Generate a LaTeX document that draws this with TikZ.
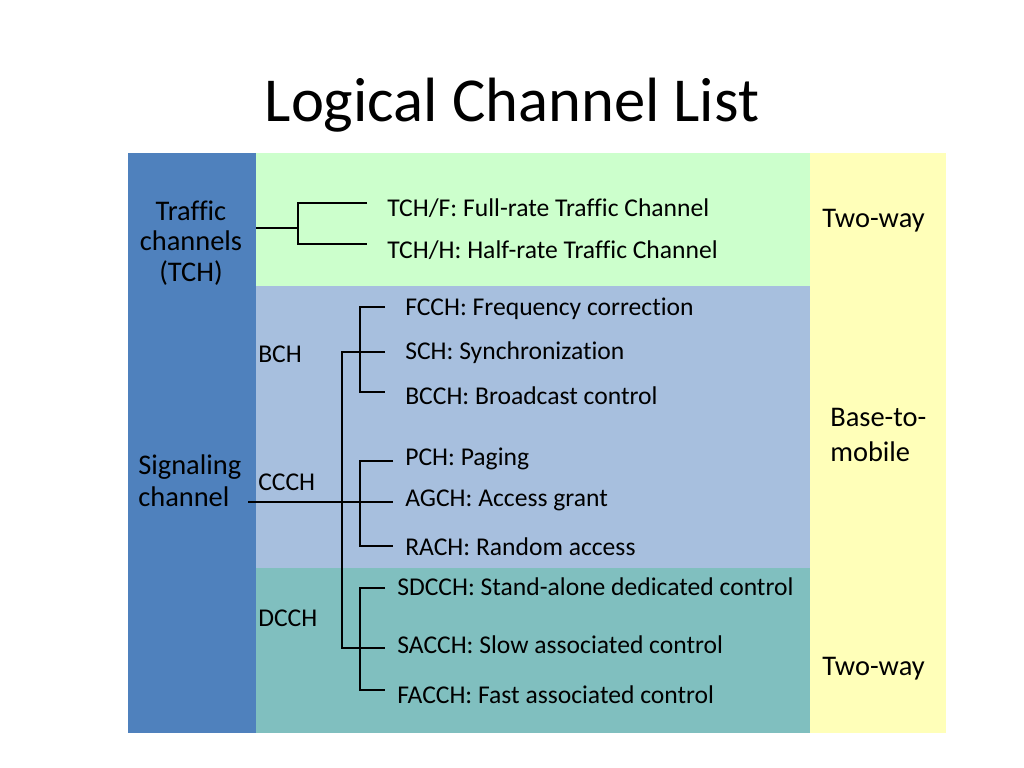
\documentclass[tikz,border=0pt]{standalone}
\usepackage{fontspec}
\setmainfont{Carlito}[Ligatures={NoCommon},RawFeature={-liga;-clig;-dlig}]
\definecolor{colblue}{HTML}{4F81BD}
\definecolor{bandgreen}{HTML}{CCFFCC}
\definecolor{bandblue}{HTML}{A7BFDE}
\definecolor{bandteal}{HTML}{80BFBF}
\definecolor{colyellow}{HTML}{FFFFB9}
\begin{document}
\begin{tikzpicture}[x=0.703125pt,y=-0.703125pt,
  lbl/.style={anchor=base west,inner sep=0pt,font=\fontsize{18}{21.6}\selectfont},
  side/.style={inner sep=0pt,font=\fontsize{20}{21.1}\selectfont},
  wire/.style={line width=1.4pt,line join=miter}]
\useasboundingbox (0,0) rectangle (1024,768);
\fill[white] (0,0) rectangle (1024,768);
% title
\node[anchor=base,inner sep=0pt,font=\fontsize{44}{50}\selectfont] (title) at (512,122) {Logical Channel List};
% bands
\fill[colblue] (128,153) rectangle (256,733);
\fill[bandgreen] (256,153) rectangle (810,286);
\fill[bandblue] (256,286) rectangle (810,568);
\fill[bandteal] (256,568) rectangle (810,733);
\fill[colyellow] (810,153) rectangle (946,733);
% left labels
\node[side,align=center,anchor=base] (traffic) at (191,281) {Traffic\\channels\\(TCH)};
\node[side,align=left,anchor=base west,font=\fontsize{20}{22.5}\selectfont] (signaling) at (138,506) {Signaling\\channel};
% group labels
\node[lbl] (bch) at (258,362) {BCH};
\node[lbl] (ccch) at (258,490) {CCCH};
\node[lbl] (dcch) at (258,626) {DCCH};
% channel labels
\node[lbl] (tchf) at (387,217) {TCH/F: Full-rate Traffic Channel};
\node[lbl] (tchh) at (387,259) {TCH/H: Half-rate Traffic Channel};
\node[lbl] (fcch) at (405,316) {FCCH: Frequency correction};
\node[lbl] (sch) at (405,359) {SCH: Synchronization};
\node[lbl] (bcch) at (405,404) {BCCH: Broadcast control};
\node[lbl] (pch) at (405,465) {PCH: Paging};
\node[lbl] (agch) at (405,506) {AGCH: Access grant};
\node[lbl] (rach) at (405,555) {RACH: Random access};
\node[lbl] (sdcch) at (397,595) {SDCCH: Stand-alone dedicated control};
\node[lbl] (sacch) at (397,653) {SACCH: Slow associated control};
\node[lbl] (facch) at (397,703) {FACCH: Fast associated control};
% right labels
\node[side,anchor=base west] (twoway1) at (822,228) {Two-way};
\node[side,align=left,anchor=base west,font=\fontsize{20}{24}\selectfont] (b2m) at (830,461) {Base-to-\\mobile};
\node[side,anchor=base west] (twoway2) at (822,675) {Two-way};
% connector coordinates
\coordinate (tchsrc) at (256,228);
\coordinate (jtch) at (298,228);
\coordinate (etchf) at (367,203);
\coordinate (etchh) at (367,244);
\coordinate (sigsrc) at (248,502);
\coordinate (eagch) at (393,502);
\coordinate (trunktop) at (342,352);
\coordinate (trunkbot) at (342,648);
\coordinate (esch) at (385,352);
\coordinate (esacch) at (385,648);
\coordinate (efcch) at (385,307);
\coordinate (ebcch) at (385,392);
\coordinate (epch) at (393,461);
\coordinate (erach) at (393,546);
\coordinate (esdcch) at (385,588);
\coordinate (efacch) at (385,690);
% connectors
\draw[wire] (tchsrc) -- (jtch);
\draw[wire] (etchf) -| (jtch) |- (etchh);
\draw[wire] (sigsrc) -- (eagch);
\draw[wire] (esch) -- (trunktop) -- (trunkbot) -- (esacch);
\draw[wire] (efcch) -- ++(-25,0) |- (ebcch);
\draw[wire] (epch) -- ++(-33,0) |- (erach);
\draw[wire] (esdcch) -- ++(-25,0) |- (efacch);
\end{tikzpicture}
\end{document}
